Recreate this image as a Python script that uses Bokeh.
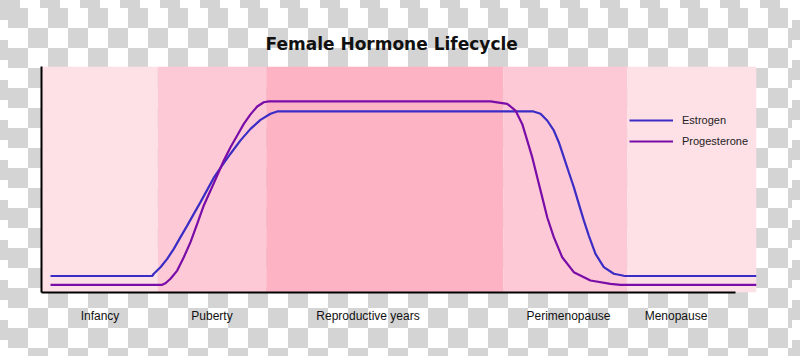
from bokeh.plotting import figure
from bokeh.models import Range1d, FixedTicker, Legend, LegendItem
from bokeh.embed import file_html
from bokeh.resources import INLINE

# ---- data -------------------------------------------------------------
stage_edges = [0.0, 11.63, 22.47, 46.17, 58.57, 71.5]
stage_colors = ["#fee0e7", "#fec9d6", "#feb3c4", "#fec9d6", "#fee0e7"]

stage_labels = ["Infancy", "Puberty", "Reproductive years", "Perimenopause", "Menopause"]
stage_label_pos = [5.85, 17.05, 32.65, 52.7, 63.45]

estrogen_x = [0.9, 11.07, 11.23, 11.9, 12.57, 13.23, 13.9, 14.57, 15.23, 15.9, 16.57, 17.23,
              18.07, 18.9, 19.9, 20.9, 21.9, 22.9, 23.57, 49.2, 49.9, 50.57, 51.23, 51.73,
              52.23, 52.73, 53.23, 53.73, 54.23, 54.73, 55.4, 56.23, 57.23, 58.23, 58.9, 71.5]
estrogen_y = [7.3, 7.3, 8.3, 11.2, 14.9, 19.3, 24.5, 29.6, 34.8, 40.0, 45.4, 50.8,
              56.2, 61.4, 67.3, 72.4, 76.4, 79.1, 80.1, 80.1, 79.1, 76.1, 71.7, 66.5,
              59.9, 53.2, 46.6, 39.2, 31.9, 25.2, 17.1, 11.2, 8.3, 7.4, 7.3, 7.3]

progesterone_x = [0.9, 12.07, 12.4, 12.9, 13.57, 14.23, 14.9, 15.57, 16.23, 16.9, 17.57, 18.23,
                  18.9, 19.57, 20.23, 20.9, 21.57, 22.23, 22.73, 44.9, 46.57, 47.4, 48.07,
                  48.57, 49.07, 49.57, 50.07, 50.57, 51.23, 52.07, 53.23, 54.9, 56.9, 57.9, 71.5]
progesterone_y = [3.4, 3.4, 4.1, 6.1, 9.7, 15.6, 22.3, 30.4, 38.5, 45.1, 51.8, 58.4,
                  64.3, 69.5, 74.6, 78.8, 82.3, 84.2, 84.6, 84.6, 83.5, 80.5, 74.6,
                  67.3, 59.9, 51.0, 42.2, 33.3, 24.5, 15.6, 9.0, 5.3, 3.8, 3.4, 3.4]

# ---- figure -----------------------------------------------------------
p = figure(width=784, height=340, output_backend="svg", toolbar_location=None,
           x_range=Range1d(0, 71.5), y_range=Range1d(0, 100),
           min_border_left=33, min_border_right=36, min_border_top=58, min_border_bottom=56)

p.border_fill_color = None
p.background_fill_color = None
p.outline_line_color = None
p.xgrid.visible = False
p.ygrid.visible = False

css = ("html, body { background-color: #ffffff; "
       "background-image: repeating-conic-gradient(#ffffff 0% 25%, #d4d4d4 0% 50%); "
       "background-size: 40px 40px; background-position: 0 0; } "
       "body { margin: 8px !important; padding: 0 !important; }")
try:
    from bokeh.models import GlobalInlineStyleSheet
    p.stylesheets = [GlobalInlineStyleSheet(css=css)]
except Exception:
    pass

p.title.text = "Female Hormone Lifecycle"
p.title.align = "left"
p.title.offset = 224
p.title.text_font = "DejaVu Sans"
p.title.text_font_style = "bold"
p.title.text_font_size = "17px"
p.title.text_color = "#111111"
p.title.standoff = 25

# stage bands
p.quad(left=stage_edges[:-1], right=stage_edges[1:], bottom=0, top=100,
       fill_color=stage_colors, line_color=None)

r_e = p.line(estrogen_x, estrogen_y, line_color="#3a2cc4", line_width=2.2)
r_p = p.line(progesterone_x, progesterone_y, line_color="#7a0ca8", line_width=2.2)

legend = Legend(items=[LegendItem(label="Estrogen", renderers=[r_e]),
                       LegendItem(label="Progesterone", renderers=[r_p])],
                location=(588, 141))
legend.border_line_color = None
legend.background_fill_alpha = 0
legend.padding = 0
legend.margin = 0
legend.spacing = 1
legend.glyph_width = 44
legend.glyph_height = 20
legend.label_height = 20
legend.label_standoff = 9
legend.label_text_font = "Liberation Sans"
legend.label_text_font_size = "11px"
legend.label_text_color = "#222222"
p.add_layout(legend)

# axes
xa = p.xaxis[0]
xa.ticker = FixedTicker(ticks=stage_label_pos)
xa.major_label_overrides = {pos: lab for pos, lab in zip(stage_label_pos, stage_labels)}
xa.bounds = (0, 69.4)
xa.axis_line_width = 2
xa.axis_line_color = "black"
xa.major_tick_line_color = None
xa.minor_tick_line_color = None
xa.major_tick_out = 0
xa.major_tick_in = 0
xa.major_label_standoff = 16
xa.major_label_text_font = "Liberation Sans"
xa.major_label_text_font_size = "12px"
xa.major_label_text_color = "#111111"

ya = p.yaxis[0]
ya.axis_line_width = 2
ya.axis_line_color = "black"
ya.major_tick_line_color = None
ya.minor_tick_line_color = None
ya.major_tick_out = 0
ya.major_tick_in = 0
ya.major_label_text_font_size = "0px"
ya.major_label_text_color = None

open("out.html", "w").write(file_html(p, INLINE))
